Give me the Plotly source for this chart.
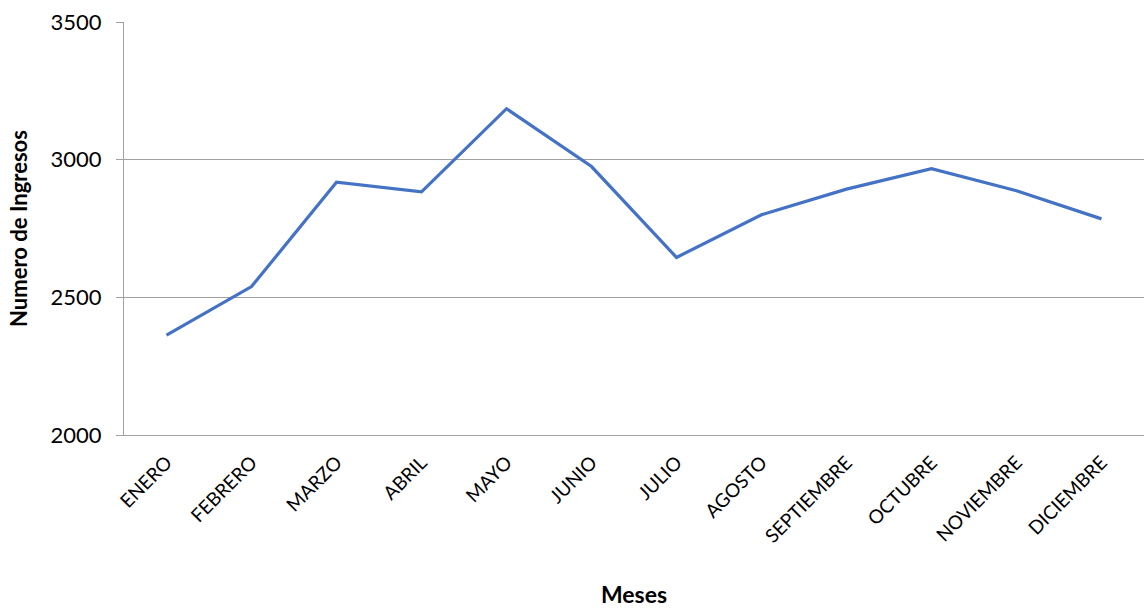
import plotly.graph_objects as go

meses = ["ENERO", "FEBRERO", "MARZO", "ABRIL", "MAYO", "JUNIO", "JULIO",
         "AGOSTO", "SEPTIEMBRE", "OCTUBRE", "NOVIEMBRE", "DICIEMBRE"]
ingresos = [2363, 2539, 2918, 2883, 3185, 2975, 2645, 2800, 2893, 2967, 2887, 2785]
y_ticks = [2000, 2500, 3000, 3500]

FONT = "Lato, 'Open Sans', sans-serif"
GRID = "#a0a0a0"

fig = go.Figure(
    go.Scatter(
        x=meses,
        y=ingresos,
        mode="lines",
        line=dict(color="#4472C4", width=3.2),
        hoverinfo="x+y",
    )
)

fig.update_layout(
    width=1144,
    height=608,
    margin=dict(l=124, r=0, t=22, b=173),
    paper_bgcolor="white",
    plot_bgcolor="white",
    showlegend=False,
    font=dict(family=FONT, color="#000000"),
)

fig.update_xaxes(
    type="category",
    range=[-0.5, 11.5],
    automargin=False,
    tickangle=-45,
    tickfont=dict(size=19, family=FONT),
    showline=True,
    linecolor=GRID,
    linewidth=1.2,
    showgrid=False,
    ticks="outside",
    ticklen=8,
    tickcolor="rgba(0,0,0,0)",
    title=dict(text="<b>Meses</b>", font=dict(size=23, family=FONT), standoff=48),
)

fig.update_yaxes(
    range=[2000, 3500],
    automargin=False,
    tickvals=y_ticks,
    tickfont=dict(size=22, family=FONT),
    showline=True,
    linecolor=GRID,
    linewidth=1.2,
    showgrid=True,
    gridcolor=GRID,
    gridwidth=1.2,
    ticks="outside",
    ticklen=7,
    tickcolor=GRID,
    tickwidth=1.2,
    ticklabelstandoff=10,
    zeroline=False,
    title=dict(text="<b>Numero de Ingresos</b>", font=dict(size=22, family=FONT), standoff=16),
)

fig.write_html("out.html")
